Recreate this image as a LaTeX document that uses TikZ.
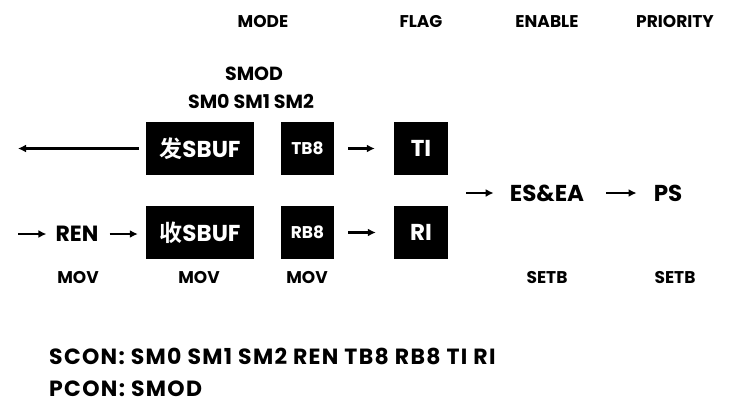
\documentclass[tikz,border=0pt]{standalone}
\usepackage{fontspec}
\setmainfont{Poppins}[BoldFont=* Bold]
\newfontfamily\cjk{Noto Sans CJK SC}[BoldFont=* Bold]
\newfontfamily\wideface{Poppins}[BoldFont=* Bold, LetterSpace=6]
\usepackage{tikz}
\usetikzlibrary{
  arrows.meta,%
  positioning
}
\tikzset{>={Latex[length=8pt,width=8pt]}}
\tikzset{font=\bfseries}
\newcommand{\fsz}[1]{\fontsize{#1}{#1}\selectfont}

\begin{document}
\begin{tikzpicture}[x=1pt,y=-1pt,
    blk/.style={fill=black, text=white, inner sep=0pt, minimum height=53pt},
    lbl/.style={inner sep=0pt, font=\bfseries\fsz{17}},
    arr/.style={->, line width=2.8pt}]
  \useasboundingbox (0,0) rectangle (731,418);
  % column heads
  \node[lbl] (mode) at (263,22) {MODE};
  \node[lbl] (flag) at (421,22) {FLAG};
  \node[lbl] (enable) at (547,22) {ENABLE};
  \node[lbl] (priority) at (675,22) {PRIORITY};
  \node[lbl, font=\bfseries\fsz{19}] (smod) at (254,74) {SMOD};
  \node[lbl, font=\bfseries\fsz{19}] (smbits) at (251,101) {SM0 SM1 SM2};
  % buffers and flags
  \node[blk, minimum width=108pt, font=\bfseries\fsz{23}] (sendbuf) at (200,148.5) {{\cjk 发}SBUF};
  \node[blk, minimum width=108pt, font=\bfseries\fsz{23}] (recvbuf) at (200,232.5) {{\cjk 收}SBUF};
  \node[blk, minimum width=53pt, font=\bfseries\fsz{17}] (tbeight) at (307.5,148.5) {TB8};
  \node[blk, minimum width=53pt, font=\bfseries\fsz{17}] (rbeight) at (307.5,232.5) {RB8};
  \node[blk, minimum width=54pt, font=\bfseries\fsz{23}] (ti) at (421,148.5) {TI};
  \node[blk, minimum width=54pt, font=\bfseries\fsz{23}] (ri) at (421,232.5) {RI};
  \node[lbl, font=\bfseries\fsz{22}] (ren) at (77,234) {REN};
  \node[lbl, font=\bfseries\fsz{23}] (eses) at (547,193) {ES\&EA};
  \node[lbl, font=\bfseries\fsz{23}] (ps) at (668,193) {PS};
  % instructions
  \node[lbl] (movren) at (78,278) {MOV};
  \node[lbl] (movbuf) at (199,278) {MOV};
  \node[lbl] (movrb) at (307,278) {MOV};
  \node[lbl] (setbes) at (547,278) {SETB};
  \node[lbl] (setbps) at (675,278) {SETB};
  % free ends
  \coordinate (txout) at (18,148.5);
  \coordinate (rxin) at (18,234);
  \coordinate (flagout) at (466,193);
  % arrows
  \draw[arr, shorten <=7pt] (sendbuf) -- (txout);
  \draw[arr, shorten <=14pt, shorten >=19pt] (tbeight) -- (ti);
  \draw[arr, shorten <=14pt, shorten >=18pt] (rbeight) -- (ri);
  \draw[arr, shorten >=9pt] (rxin) -- (ren);
  \draw[arr, shorten <=11pt, shorten >=8pt] (ren) -- (recvbuf.west |- ren);
  \draw[arr, shorten >=16pt] (flagout) -- (eses);
  \draw[arr, shorten <=22pt, shorten >=17pt] (eses) -- (ps);
  % registers
  \node[lbl, anchor=west, font=\wideface\bfseries\fsz{22}] (scon) at (49,356) {SCON: SM0 SM1 SM2 REN TB8 RB8 TI RI};
  \node[lbl, anchor=west, font=\wideface\bfseries\fsz{22}] (pcon) at (49,389) {PCON: SMOD};
\end{tikzpicture}
\end{document}
